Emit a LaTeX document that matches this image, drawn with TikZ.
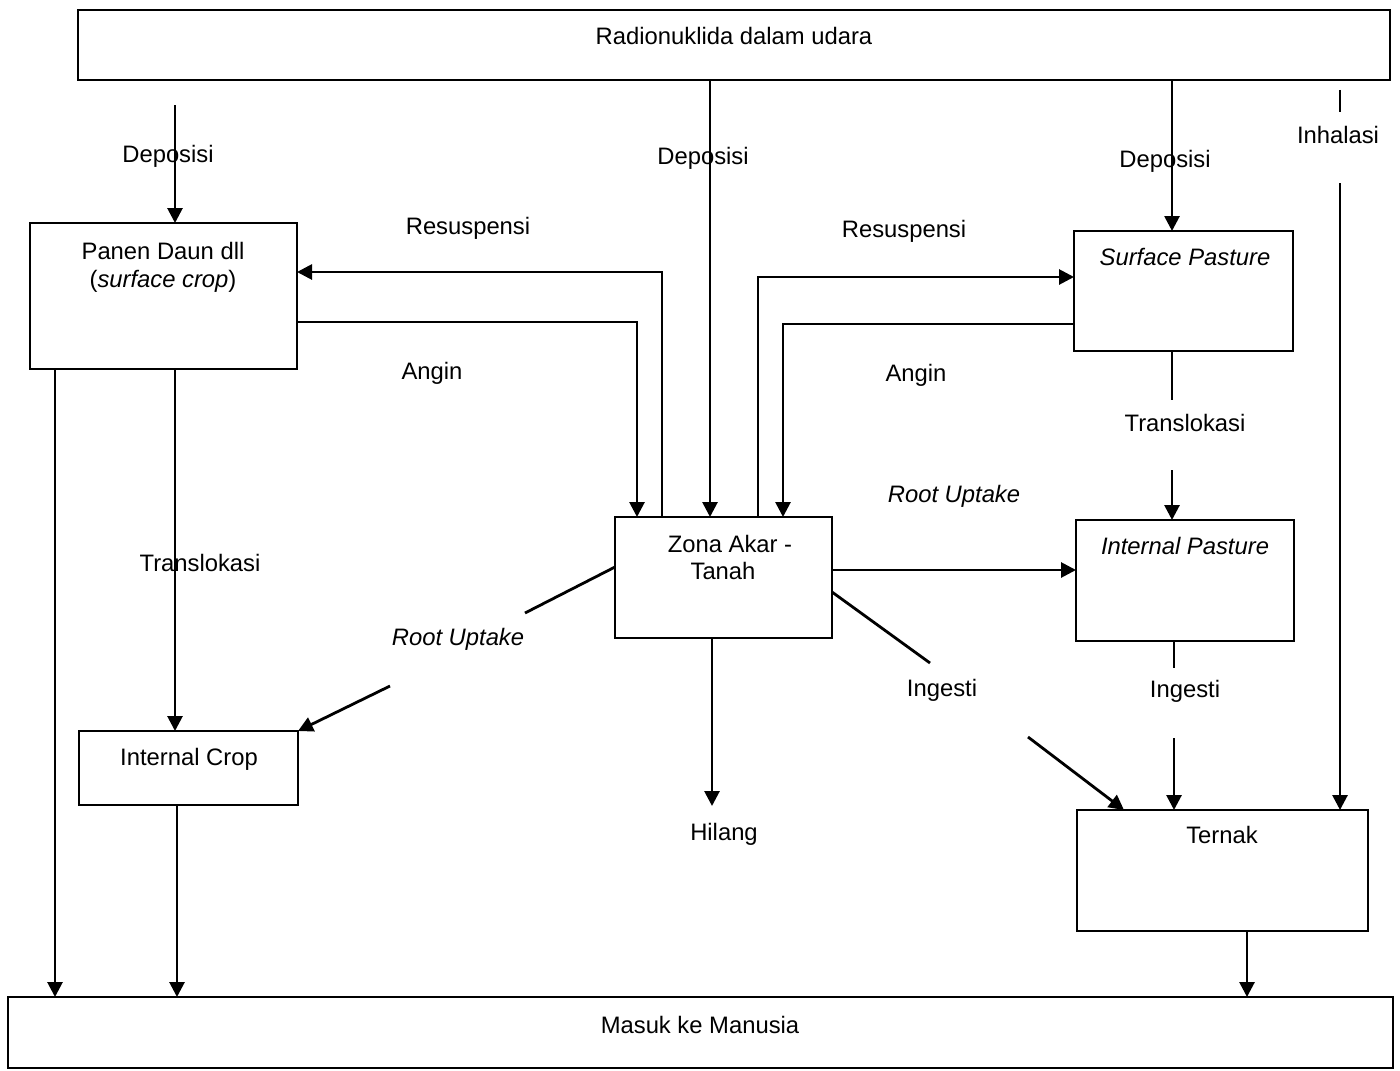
\documentclass[tikz,border=0pt]{standalone}
\usepackage{fontspec}
\setmainfont{Liberation Sans}
\usetikzlibrary{arrows.meta}
\begin{document}
\begin{tikzpicture}[x=0.5pt,y=-0.5pt,
  box/.style={draw,line width=1.4pt,inner sep=0pt,outer sep=0pt},
  lbl/.style={anchor=base,inner sep=0pt,font=\fontsize{11.9}{14}\selectfont},
  con/.style={line width=1.4pt},
  arr/.style={con,-{Triangle[width=7.5pt,length=7.5pt]}}]
\useasboundingbox (0,0) rectangle (1400,1070);
% boxes
\node[box,minimum width=656pt,minimum height=35pt] (top) at (734,45) {};
\node[box,minimum width=692.5pt,minimum height=35.5pt] (bottom) at (700.5,1032.5) {};
\node[box,minimum width=133.5pt,minimum height=73pt] (panen) at (163.5,296) {};
\node[box,minimum width=109.5pt,minimum height=60pt] (surf) at (1183.5,291) {};
\node[box,minimum width=108.5pt,minimum height=60.5pt] (zona) at (723.5,577.5) {};
\node[box,minimum width=109pt,minimum height=60.5pt] (intpast) at (1185,580.5) {};
\node[box,minimum width=109.5pt,minimum height=37pt] (intcrop) at (188.5,768) {};
\node[box,minimum width=145.5pt,minimum height=60.5pt] (ternak) at (1222.5,870.5) {};
% box texts
\node[lbl] (ttop) at (734,45) {Radionuklida dalam udara};
\node[lbl] (tbottom) at (700,1033) {Masuk ke Manusia};
\node[lbl] (tpanen1) at (163,259) {Panen Daun dll};
\node[lbl] (tpanen2) at (163,287) {(\textit{surface crop})};
\node[lbl] (tsurf) at (1185,265) {\textit{Surface Pasture}};
\node[lbl] (tzona1) at (730,552) {Zona Akar -};
\node[lbl] (tzona2) at (723,579) {Tanah};
\node[lbl] (tintpast) at (1185,554) {\textit{Internal Pasture}};
\node[lbl] (tintcrop) at (189,765) {Internal Crop};
\node[lbl] (tternak) at (1222,843) {Ternak};
% free coordinates
\coordinate (d1s) at (175,105);
\coordinate (inh1) at (1340,90);
\coordinate (inh2) at (1340,112);
\coordinate (inh3) at (1340,183);
\coordinate (tr1) at (1172,400);
\coordinate (tr2) at (1172,470);
\coordinate (ru1) at (525,613);
\coordinate (ru2) at (390,686);
\coordinate (ing1) at (930,663);
\coordinate (ing2) at (1028,737);
\coordinate (ing3) at (1174,668);
\coordinate (ing4) at (1174,738);
\coordinate (hil) at (712,806);
% connectors
\draw[arr] (d1s) -- (panen.north -| d1s);
\draw[arr] (top.south -| 710,0) -- (zona.north -| 710,0);
\draw[arr] (top.south -| 1172,0) -- (surf.north -| 1172,0);
\draw[con] (inh1) -- (inh2);
\draw[arr] (inh3) -- (ternak.north -| inh3);
\draw[arr] (zona.north -| 662,0) -- (662,272) -- (panen.east |- 0,272);
\draw[arr] (panen.east |- 0,322) -- (637,322) -- (zona.north -| 637,0);
\draw[arr] (zona.north -| 758,0) -- (758,277) -- (surf.west |- 0,277);
\draw[arr] (surf.west |- 0,324) -- (783,324) -- (zona.north -| 783,0);
\draw[arr] (zona.east |- 0,570) -- (intpast.west |- 0,570);
\draw[con] (surf.south -| tr1) -- (tr1);
\draw[arr] (tr2) -- (intpast.north -| tr2);
\draw[con] (zona.west |- 0,567) -- (ru1);
\draw[arr] (ru2) -- (intcrop.north east);
\draw[arr] (panen.south -| 175,0) -- (intcrop.north -| 175,0);
\draw[arr] (panen.south -| 55,0) -- (bottom.north -| 55,0);
\draw[arr] (intcrop.south -| 177,0) -- (bottom.north -| 177,0);
\draw[arr] (zona.south -| hil) -- (hil);
\draw[con] (zona.east |- 0,592) -- (ing1);
\draw[arr] (ing2) -- (1124,810);
\draw[con] (intpast.south -| ing3) -- (ing3);
\draw[arr] (ing4) -- (ternak.north -| ing4);
\draw[arr] (ternak.south -| 1247,0) -- (bottom.north -| 1247,0);
% labels
\node[lbl] (ldep1) at (168,162) {Deposisi};
\node[lbl] (ldep2) at (703,164) {Deposisi};
\node[lbl] (ldep3) at (1165,167) {Deposisi};
\node[lbl] (linh) at (1338,143) {Inhalasi};
\node[lbl] (lres1) at (468,234) {Resuspensi};
\node[lbl] (lres2) at (904,237) {Resuspensi};
\node[lbl] (lang1) at (432,379) {Angin};
\node[lbl] (lang2) at (916,381) {Angin};
\node[lbl] (ltr1) at (1185,431) {Translokasi};
\node[lbl] (ltr2) at (200,571) {Translokasi};
\node[lbl] (lru1) at (954,502) {\textit{Root Uptake}};
\node[lbl] (lru2) at (458,645) {\textit{Root Uptake}};
\node[lbl] (lhil) at (724,840) {Hilang};
\node[lbl] (ling1) at (942,696) {Ingesti};
\node[lbl] (ling2) at (1185,697) {Ingesti};
\end{tikzpicture}
\end{document}
